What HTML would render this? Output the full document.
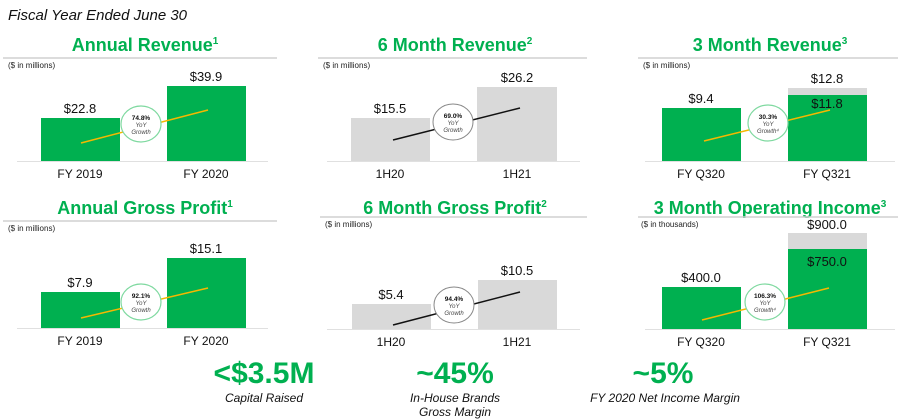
<!DOCTYPE html>
<html><head><meta charset="utf-8"><style>
body{margin:0;background:#fff}
svg{display:block;font-family:"Liberation Sans",Arial,sans-serif}
.t{font-size:18px;font-weight:bold;fill:#00b050;text-anchor:middle}
.s{font-size:8px;fill:#222}
.v{font-size:13px;fill:#111;text-anchor:middle}
.c{font-size:12px;fill:#111;text-anchor:middle}
.g1{font-size:6.5px;font-weight:bold;text-anchor:middle;fill:#111}
.g2{font-size:6px;font-style:italic;text-anchor:middle;fill:#444}
.big{font-size:30px;font-weight:bold;fill:#00b050;text-anchor:middle}
.it{font-size:12px;font-style:italic;fill:#111;text-anchor:middle}
</style></head><body>
<svg width="909" height="420" viewBox="0 0 909 420">
<text x="8" y="20" style="font-size:15px;font-style:italic" fill="#111">Fiscal Year Ended June 30</text>

<!-- Row 1 -->
<g>
<text class="t" x="145" y="51">Annual Revenue<tspan font-size="10" dy="-7">1</tspan></text>
<line x1="3" y1="58" x2="277" y2="58" stroke="#d0d0d0" stroke-width="1.5"/>
<text class="s" x="8" y="68">($ in millions)</text>
<rect x="41" y="118" width="79" height="43" fill="#00b050"/>
<rect x="167" y="86" width="79" height="75" fill="#00b050"/>
<line x1="17" y1="161.5" x2="268" y2="161.5" stroke="#e0e0e0"/>
<text class="v" x="80" y="113">$22.8</text><text class="v" x="206" y="81">$39.9</text>
<line x1="81" y1="143" x2="208" y2="110" stroke="#f5b800" stroke-width="1.5"/>
<ellipse cx="141" cy="124" rx="20" ry="18" fill="#fff" stroke="#7fd9a0" stroke-width="1.2"/>
<text class="g1" x="141" y="120">74.8%</text><text class="g2" x="141" y="127">YoY</text><text class="g2" x="141" y="134">Growth</text>
<text class="c" x="80" y="178">FY 2019</text><text class="c" x="206" y="178">FY 2020</text>
</g>
<g>
<text class="t" x="455" y="51">6 Month Revenue<tspan font-size="10" dy="-7">2</tspan></text>
<line x1="318" y1="58" x2="587" y2="58" stroke="#d0d0d0" stroke-width="1.5"/>
<text class="s" x="323" y="68">($ in millions)</text>
<rect x="351" y="118" width="79" height="43" fill="#d9d9d9"/>
<rect x="477" y="87" width="80" height="74" fill="#d9d9d9"/>
<line x1="327" y1="161.5" x2="580" y2="161.5" stroke="#e0e0e0"/>
<text class="v" x="390" y="113">$15.5</text><text class="v" x="517" y="82">$26.2</text>
<line x1="393" y1="140" x2="520" y2="108" stroke="#111" stroke-width="1.5"/>
<ellipse cx="453" cy="122" rx="20" ry="18" fill="#fff" stroke="#888" stroke-width="1"/>
<text class="g1" x="453" y="118">69.0%</text><text class="g2" x="453" y="125">YoY</text><text class="g2" x="453" y="132">Growth</text>
<text class="c" x="390" y="178">1H20</text><text class="c" x="517" y="178">1H21</text>
</g>
<g>
<text class="t" x="770" y="51">3 Month Revenue<tspan font-size="10" dy="-7">3</tspan></text>
<line x1="638" y1="58" x2="898" y2="58" stroke="#d0d0d0" stroke-width="1.5"/>
<text class="s" x="643" y="68">($ in millions)</text>
<rect x="662" y="108" width="79" height="53" fill="#00b050"/>
<rect x="788" y="88" width="79" height="73" fill="#d9d9d9"/>
<rect x="788" y="95" width="79" height="66" fill="#00b050"/>
<line x1="645" y1="161.5" x2="895" y2="161.5" stroke="#e0e0e0"/>
<text class="v" x="701" y="103">$9.4</text><text class="v" x="827" y="83">$12.8</text><text class="v" x="827" y="108">$11.8</text>
<line x1="704" y1="141" x2="830" y2="110" stroke="#f5b800" stroke-width="1.5"/>
<ellipse cx="768" cy="123" rx="20" ry="18" fill="#fff" stroke="#7fd9a0" stroke-width="1.2"/>
<text class="g1" x="768" y="119">30.3%</text><text class="g2" x="768" y="126">YoY</text><text class="g2" x="768" y="133">Growth⁴</text>
<text class="c" x="701" y="178">FY Q320</text><text class="c" x="827" y="178">FY Q321</text>
</g>

<!-- Row 2 -->
<g>
<text class="t" x="145" y="214">Annual Gross Profit<tspan font-size="10" dy="-7">1</tspan></text>
<line x1="3" y1="221" x2="277" y2="221" stroke="#d0d0d0" stroke-width="1.5"/>
<text class="s" x="8" y="231">($ in millions)</text>
<rect x="41" y="292" width="79" height="36" fill="#00b050"/>
<rect x="167" y="258" width="79" height="70" fill="#00b050"/>
<line x1="17" y1="328.5" x2="268" y2="328.5" stroke="#e0e0e0"/>
<text class="v" x="80" y="287">$7.9</text><text class="v" x="206" y="253">$15.1</text>
<line x1="81" y1="318" x2="208" y2="288" stroke="#f5b800" stroke-width="1.5"/>
<ellipse cx="141" cy="302" rx="20" ry="18" fill="#fff" stroke="#7fd9a0" stroke-width="1.2"/>
<text class="g1" x="141" y="298">92.1%</text><text class="g2" x="141" y="305">YoY</text><text class="g2" x="141" y="312">Growth</text>
<text class="c" x="80" y="345">FY 2019</text><text class="c" x="206" y="345">FY 2020</text>
</g>
<g>
<text class="t" x="455" y="214">6 Month Gross Profit<tspan font-size="10" dy="-7">2</tspan></text>
<line x1="320" y1="217" x2="587" y2="217" stroke="#d0d0d0" stroke-width="1.5"/>
<text class="s" x="325" y="227">($ in millions)</text>
<rect x="352" y="304" width="79" height="25" fill="#d9d9d9"/>
<rect x="478" y="280" width="79" height="49" fill="#d9d9d9"/>
<line x1="327" y1="329.5" x2="580" y2="329.5" stroke="#e0e0e0"/>
<text class="v" x="391" y="299">$5.4</text><text class="v" x="517" y="275">$10.5</text>
<line x1="393" y1="325" x2="520" y2="292" stroke="#111" stroke-width="1.5"/>
<ellipse cx="454" cy="305" rx="20" ry="18" fill="#fff" stroke="#888" stroke-width="1"/>
<text class="g1" x="454" y="301">94.4%</text><text class="g2" x="454" y="308">YoY</text><text class="g2" x="454" y="315">Growth</text>
<text class="c" x="391" y="346">1H20</text><text class="c" x="517" y="346">1H21</text>
</g>
<g>
<text class="t" x="770" y="214">3 Month Operating Income<tspan font-size="10" dy="-7">3</tspan></text>
<line x1="638" y1="217" x2="898" y2="217" stroke="#d0d0d0" stroke-width="1.5"/>
<text class="s" x="641" y="227">($ in thousands)</text>
<rect x="662" y="287" width="79" height="42" fill="#00b050"/>
<rect x="788" y="233" width="79" height="96" fill="#d9d9d9"/>
<rect x="788" y="249" width="79" height="80" fill="#00b050"/>
<line x1="645" y1="329.5" x2="895" y2="329.5" stroke="#e0e0e0"/>
<text class="v" x="701" y="282">$400.0</text><text class="v" x="827" y="229">$900.0</text><text class="v" x="827" y="266">$750.0</text>
<line x1="702" y1="320" x2="829" y2="288" stroke="#f5b800" stroke-width="1.5"/>
<ellipse cx="765" cy="302" rx="20" ry="18" fill="#fff" stroke="#7fd9a0" stroke-width="1.2"/>
<text class="g1" x="765" y="298">106.3%</text><text class="g2" x="765" y="305">YoY</text><text class="g2" x="765" y="312">Growth⁴</text>
<text class="c" x="701" y="346">FY Q320</text><text class="c" x="827" y="346">FY Q321</text>
</g>

<!-- Bottom -->
<text class="big" x="264" y="383">&lt;$3.5M</text>
<text class="it" x="264" y="402">Capital Raised</text>
<text class="big" x="455" y="383">~45%</text>
<text class="it" x="455" y="402">In-House Brands</text>
<text class="it" x="455" y="416">Gross Margin</text>
<text class="big" x="663" y="383">~5%</text>
<text class="it" x="665" y="402">FY 2020 Net Income Margin</text>
</svg>
</body></html>
